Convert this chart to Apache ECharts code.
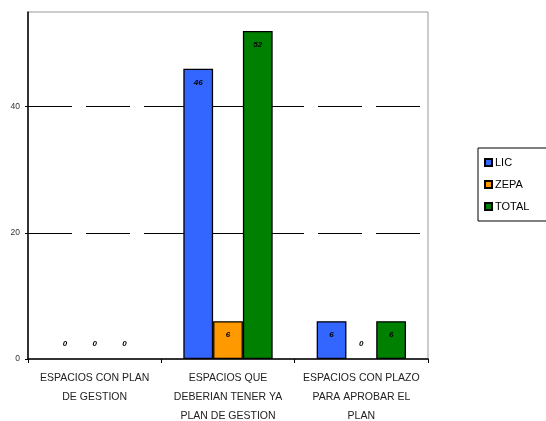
<!DOCTYPE html>
<html><head><meta charset="utf-8">
<script src="https://cdn.jsdelivr.net/npm/echarts@6/dist/echarts.min.js"></script>
<style>html,body{margin:0;padding:0;background:#fff}#c{width:546px;height:421px}</style>
</head><body><div id="c"></div>
<script>
const categories = ['ESPACIOS CON PLAN\nDE GESTION', 'ESPACIOS QUE\nDEBERIAN TENER YA\nPLAN DE GESTION', 'ESPACIOS CON PLAZO\nPARA APROBAR EL\nPLAN'];
const seriesNames = ['LIC', 'ZEPA', 'TOTAL'];
const lic = [0, 46, 6];
const zepa = [0, 6, 0];
const total = [0, 52, 6];
const yTicks = [0, 20, 40];
const colors = ['#3366FF', '#FF9900', '#008000'];

function mk(vals) {
  return vals.map(v => v === 0
    ? { value: v, itemStyle: { borderWidth: 0 }, label: { position: 'top', distance: 11 } }
    : { value: v });
}
const chart = echarts.init(document.getElementById('c'), null, { renderer: 'canvas' });
const labelStyle = { show: true, position: 'insideTop', distance: 10, fontSize: 8, fontStyle: 'italic', fontWeight: 'bold', color: '#000', fontFamily: 'Liberation Sans' };
chart.setOption({
  animation: false,
  grid: { left: 28, right: 118, top: 12, bottom: 62, show: true, borderColor: '#999', borderWidth: 1, outerBoundsMode: 'none', containLabel: false },
  legend: {
    orient: 'vertical', left: 478, top: 148, padding: [9, 24, 9, 6],
    itemWidth: 7, itemHeight: 7, itemGap: 11,
    borderColor: '#000', borderWidth: 1, icon: 'rect',
    textStyle: { fontSize: 11, color: '#000', fontFamily: 'Liberation Sans', padding: [0, 0, 0, -2] },
    data: seriesNames
  },
  xAxis: {
    type: 'category', data: categories,
    axisLine: { lineStyle: { color: '#000', width: 1.5 } },
    axisTick: { show: true, length: 4, lineStyle: { color: '#000' } },
    axisLabel: { fontSize: 10.5, color: '#222', lineHeight: 19, margin: 10, fontFamily: 'Liberation Sans', interval: 0 }
  },
  yAxis: {
    type: 'value', min: 0, max: 55, interval: 20,
    axisLine: { show: true, lineStyle: { color: '#000', width: 1.5 } },
    axisTick: { show: true, length: 3, lineStyle: { color: '#000' } },
    axisLabel: { fontSize: 8.5, color: '#333', margin: 8, fontFamily: 'Liberation Sans', showMaxLabel: false,
      formatter: v => yTicks.includes(v) ? String(v) : '' },
    splitLine: { show: true, showMaxLine: false, showMinLine: false, lineStyle: { color: '#000', width: 1, type: [44, 14] } }
  },
  series: [lic, zepa, total].map((vals, i) => ({
    name: seriesNames[i], type: 'bar', data: mk(vals),
    barGap: '0%', barCategoryGap: '33%',
    itemStyle: { color: colors[i], borderColor: '#000', borderWidth: 1.3 },
    label: labelStyle
  }))
});
</script></body></html>
